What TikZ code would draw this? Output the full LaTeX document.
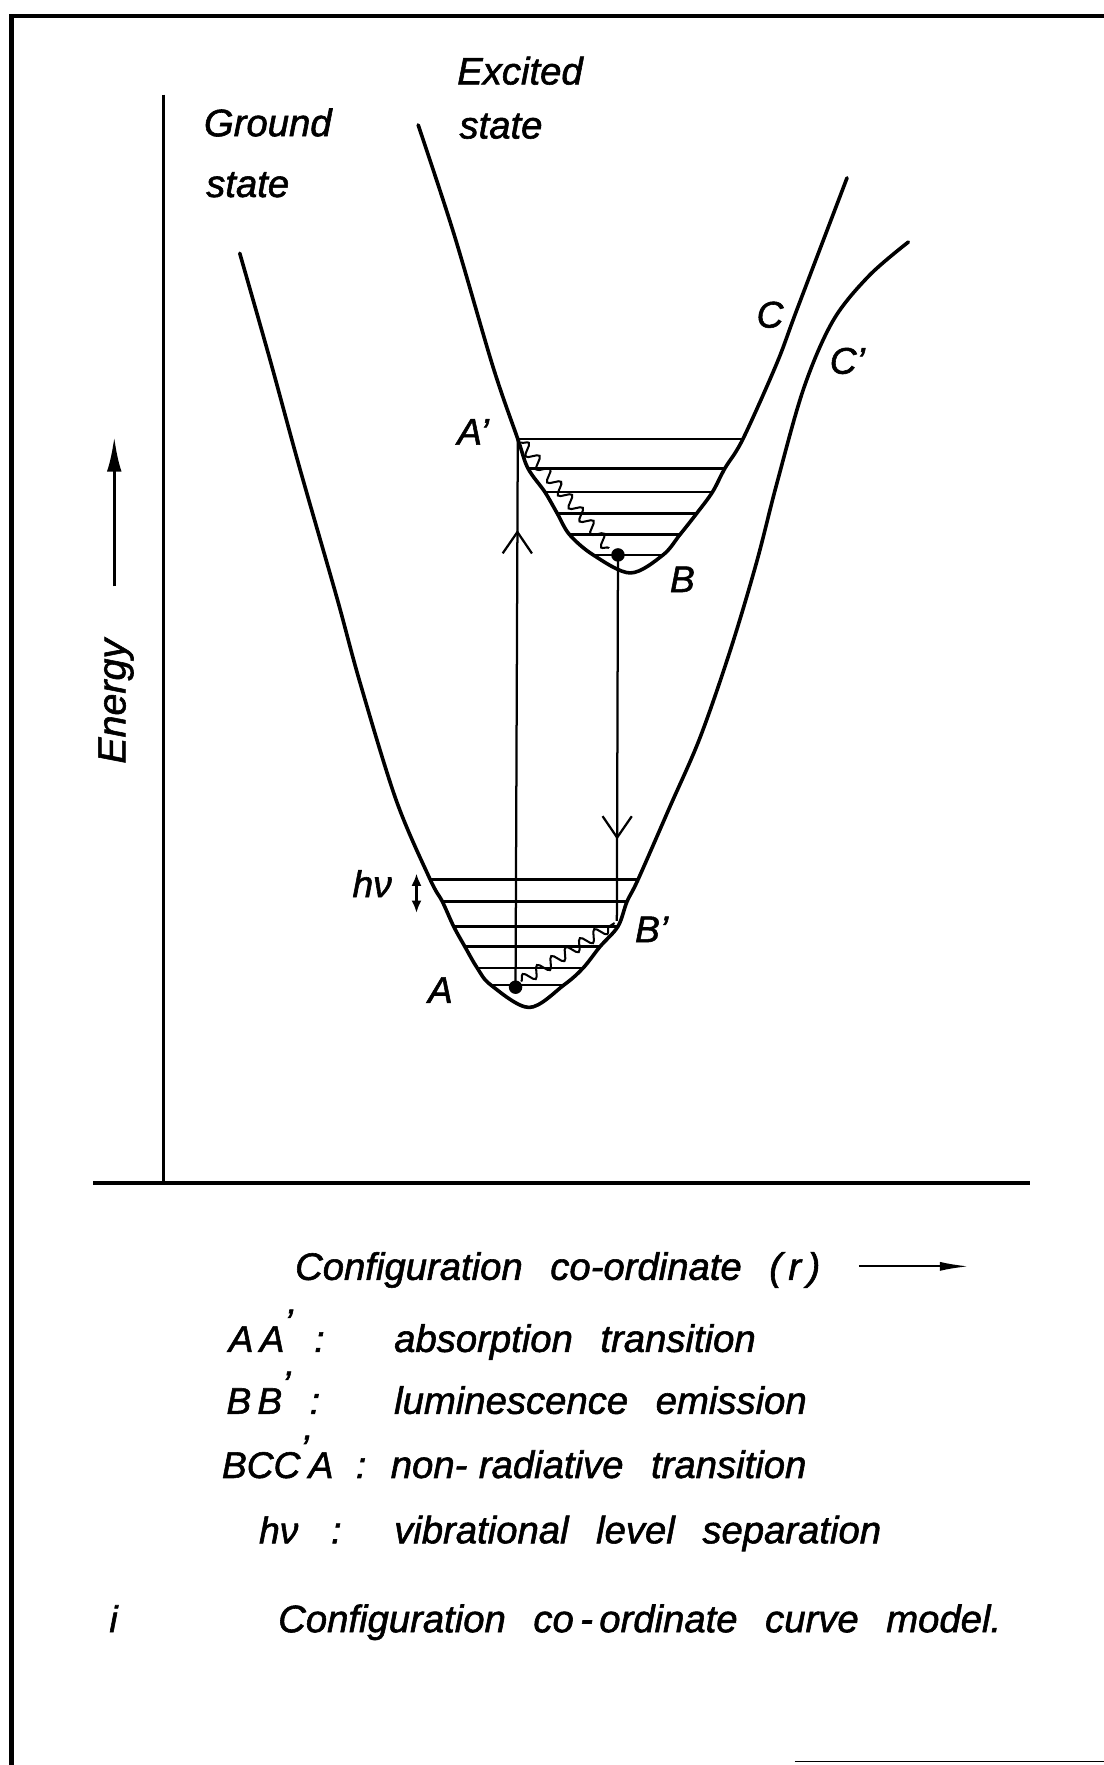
\documentclass[tikz,border=0pt]{standalone}
\usepackage{fontspec}
\setmainfont{Liberation Sans}[ItalicFeatures={FakeBold=1.5}]
\usetikzlibrary{arrows.meta,decorations.pathmorphing,decorations.markings}
\newcommand{\prm}{\textquoteright}
\begin{document}
\begin{tikzpicture}[x=1pt,y=-1pt,
  curve/.style={line width=3.2pt,line cap=round,line join=round},
  lvl/.style={line width=2.5pt},
  trans/.style={line width=2pt},
  axisline/.style={line width=3pt},
  txt/.style={font={\fontsize{34}{40}\selectfont\itshape\spaceskip=0.72em\relax}, inner sep=0pt, anchor=base west},
  lab/.style={font={\fontsize{33}{38}\selectfont\itshape}, inner sep=0pt, anchor=base west},
  wavy/.style={line width=1.8pt, decorate, decoration={snake,segment length=15pt,amplitude=5pt}},
  midtip/.style={postaction={decorate}, decoration={markings, mark=at position #1 with {\arrow{Straight Barb[length=19pt,width=26pt,line width=2pt]}}}},
]
\useasboundingbox (0,0) rectangle (980,1568);

% frame
\draw[line width=4pt] (10,1570) -- (10,14) -- (982,14);
\draw[line width=1.2pt] (706,1565) -- (982,1565);

% axes
\coordinate (ytop) at (145,84);
\coordinate (orig) at (145,1051);
\coordinate (xend) at (915,1051);
\coordinate (xleft) at (83,1051);
\draw[axisline] (ytop) -- (orig);
\draw[axisline] (xleft) -- (xend);

% energy arrow and label
\coordinate (eb) at (101.5,521);
\coordinate (et) at (101.5,388);
\draw[line width=3pt,-{Latex[length=31pt,width=13pt]}] (eb) -- (et);
\node[font={\fontsize{35}{40}\selectfont\itshape}, rotate=90, inner sep=0pt] (en) at (103,623) {Energy};

% state labels
\node[txt] (g1) at (181,121) {Ground};
\node[txt] (g2) at (183,175) {state};
\node[txt] (e1) at (406,75) {Excited};
\node[txt] (e2) at (408,123) {state};

% ground state curve
\draw[curve] plot[smooth,tension=0.55] coordinates {
 (213,225) (240,320) (266,415) (299,530) (320,607) (352,711) (382,781)
 (393,801) (403,823) (413,841) (424,860) (436,875) (470,895)
 (501,875) (518,860) (533,841) (549,823) (557,801) (567,781)
 (595,717) (622,655) (649,577) (672,500) (690,430) (714,345) (740,285)
 (772,245) (807,215)};

% excited state curve
\draw[curve] plot[smooth,tension=0.55] coordinates {
 (371.5,111) (403,207) (438,326) (460,390) (469,416) (484,437) (495,456)
 (506,475) (527,493) (560,509) (589,493) (604,475) (619,456) (633,437)
 (644,416) (660,390) (690,323) (708,275) (752.5,158)};

% vibrational levels, ground
\draw[lvl] (382,781) -- (567,781);
\draw[lvl] (393,801) -- (557,801);
\draw[lvl] (403,823) -- (549,823);
\draw[lvl] (413,841) -- (533,841);
\draw[lvl] (424,860) -- (518,860);
\draw[lvl] (436,875) -- (501,875);

% vibrational levels, excited
\draw[lvl] (460,390) -- (660,390);
\draw[lvl] (469,416) -- (644,416);
\draw[lvl] (484,437) -- (633,437);
\draw[lvl] (495,456) -- (619,456);
\draw[lvl] (506,475) -- (604,475);
\draw[lvl] (527,493) -- (589,493);

% transition points
\coordinate (A) at (458,877);
\coordinate (Ap) at (460,390);
\coordinate (B) at (549,493);
\coordinate (Bp) at (548,818);

\draw[trans,midtip=0.834] (A) -- (Ap);
\draw[trans,midtip=0.778] (B) -- (Bp);

% non-radiative relaxations
\draw[wavy] ([shift={(3,3)}]Ap) -- ([shift={(-8,-6)}]B);
\draw[wavy] ([shift={(5,-5)}]A) -- ([shift={(-2,2)}]Bp);

\fill (A) circle (6);
\fill (B) circle (6);

% hv separation arrow
\coordinate (hvt) at (370,776);
\coordinate (hvb) at (370,811);
\draw[line width=2.2pt,{Latex[length=11pt,width=9pt]}-{Latex[length=11pt,width=9pt]}] (hvt) -- (hvb);

% point labels
\node[lab] (lAp) at (406,395) {A\prm};
\node[lab] (lB) at (595,526) {B};
\node[lab] (lC) at (672,291) {C};
\node[lab] (lCp) at (737,332) {C\prm};
\node[lab] (lA) at (380,891) {A};
\node[lab] (lBp) at (564,837) {B\prm};
\node[lab] (lhv) at (313,797) {hν};

% x axis title
\node[txt] (xl) at (262,1137) {Configuration co-ordinate (\,r\,)};
\coordinate (xa1) at (763,1125);
\coordinate (xa2) at (861,1125);
\draw[line width=2pt,-{Latex[length=26pt,width=8pt]}] (xa1) -- (xa2);

% legend
\node[lab] (k1) at (203,1201) {A\,A\raisebox{.45em}{\prm}};
\node[lab] (c1) at (279,1201) {:};
\node[txt] (d1) at (350,1201) {absorption transition};

\node[lab] (k2) at (201,1256) {B\,B\raisebox{.45em}{\prm}};
\node[lab] (c2) at (275,1256) {:};
\node[txt] (d2) at (350,1256) {luminescence emission};

\node[lab] (k3) at (197,1313) {BCC\raisebox{.45em}{\prm}A};
\node[lab] (c3) at (316,1313) {:};
\node[txt] (d3) at (347,1313) {non-\hspace{.3em}radiative transition};

\node[lab] (k4) at (230,1371) {hν};
\node[lab] (c4) at (294,1371) {:};
\node[txt] (d4) at (350,1371) {vibrational level separation};

\node[txt] (cap) at (247,1450) {Configuration co\,-\,ordinate curve model.};
\node[lab] (ii) at (97,1450) {i};
\end{tikzpicture}
\end{document}
